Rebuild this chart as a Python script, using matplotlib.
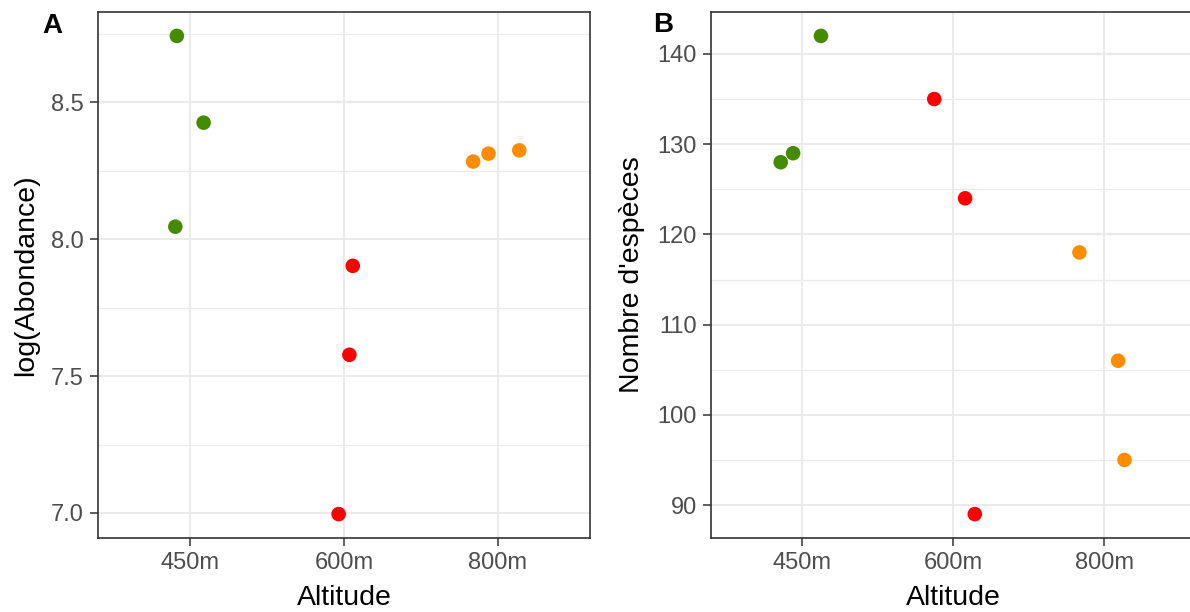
import numpy as np
import matplotlib.pyplot as plt
from matplotlib.ticker import MultipleLocator, FormatStrFormatter

plt.rcParams['font.family'] = ['Liberation Sans', 'DejaVu Sans']

# --- données ---
altitudes = ["450m", "600m", "800m"]
couleurs = {"450m": "#458B00", "600m": "#FF0000", "800m": "#FF8C00"}

# A : log(abondance) par site
site_A = ["450m", "450m", "450m", "600m", "600m", "600m", "800m", "800m", "800m"]
log_abondance = [8.743, 8.426, 8.046, 7.903, 7.578, 6.996, 8.284, 8.313, 8.325]
jitter_A = [-0.087, 0.087, -0.097, 0.057, 0.035, -0.035, -0.16, -0.06, 0.14]

# B : nombre d'espèces par site
site_B = ["450m", "450m", "450m", "600m", "600m", "600m", "800m", "800m", "800m"]
nb_especes = [142, 128, 129, 135, 124, 89, 118, 106, 95]
jitter_B = [0.127, -0.139, -0.057, -0.124, 0.080, 0.144, -0.164, 0.092, 0.134]

gris_txt = "#4D4D4D"
gris_bord = "#333333"
gris_grille = "#EBEBEB"


def panneau(ax, sites, valeurs, jit, ylabel, major, minor, fmt):
    pos = {a: i + 1 for i, a in enumerate(altitudes)}
    x = np.array([pos[s] for s in sites]) + np.array(jit)
    c = [couleurs[s] for s in sites]
    ax.scatter(x, valeurs, s=110, c=c, linewidths=0, zorder=3)

    # échelle discrète façon ggplot
    ax.set_xlim(0.4, 3.6)
    ax.set_xticks([1, 2, 3])
    ax.set_xticklabels(altitudes)
    vmin, vmax = min(valeurs), max(valeurs)
    marge = 0.05 * (vmax - vmin)
    ax.set_ylim(vmin - marge, vmax + marge)
    ax.yaxis.set_major_locator(MultipleLocator(major))
    ax.yaxis.set_minor_locator(MultipleLocator(minor))
    ax.yaxis.set_major_formatter(FormatStrFormatter(fmt))

    ax.grid(which="major", color=gris_grille, linewidth=1.4, zorder=0)
    ax.grid(which="minor", axis="y", color=gris_grille, linewidth=0.9, zorder=0)
    ax.set_axisbelow(True)
    for sp in ax.spines.values():
        sp.set_color(gris_bord)
        sp.set_linewidth(1.2)
    ax.tick_params(which="major", length=5.5, width=1.1, color=gris_bord,
                   labelsize=17, labelcolor=gris_txt, pad=4.5)
    ax.tick_params(which="minor", length=0)
    ax.set_xlabel("Altitude", fontsize=20.5, labelpad=8)
    ax.set_ylabel(ylabel, fontsize=20.5, labelpad=9)


fig = plt.figure(figsize=(11.9, 6.12), dpi=100)
H = 612
W = 1190
axA = fig.add_axes([98 / W, 1 - 538 / H, 492 / W, 526 / H])
axB = fig.add_axes([711 / W, 1 - 538 / H, 484 / W, 526 / H])

panneau(axA, site_A, log_abondance, jitter_A, "log(Abondance)", 0.5, 0.25, "%.1f")
panneau(axB, site_B, nb_especes, jitter_B, "Nombre d'espèces", 10, 5, "%d")

fig.text(52 / W, 1 - 13 / H, "A", fontsize=20, fontweight="bold", ha="center", va="top")
fig.text(663 / W, 1 - 12 / H, "B", fontsize=20, fontweight="bold", ha="center", va="top")

fig.savefig("out.png", dpi=100)
